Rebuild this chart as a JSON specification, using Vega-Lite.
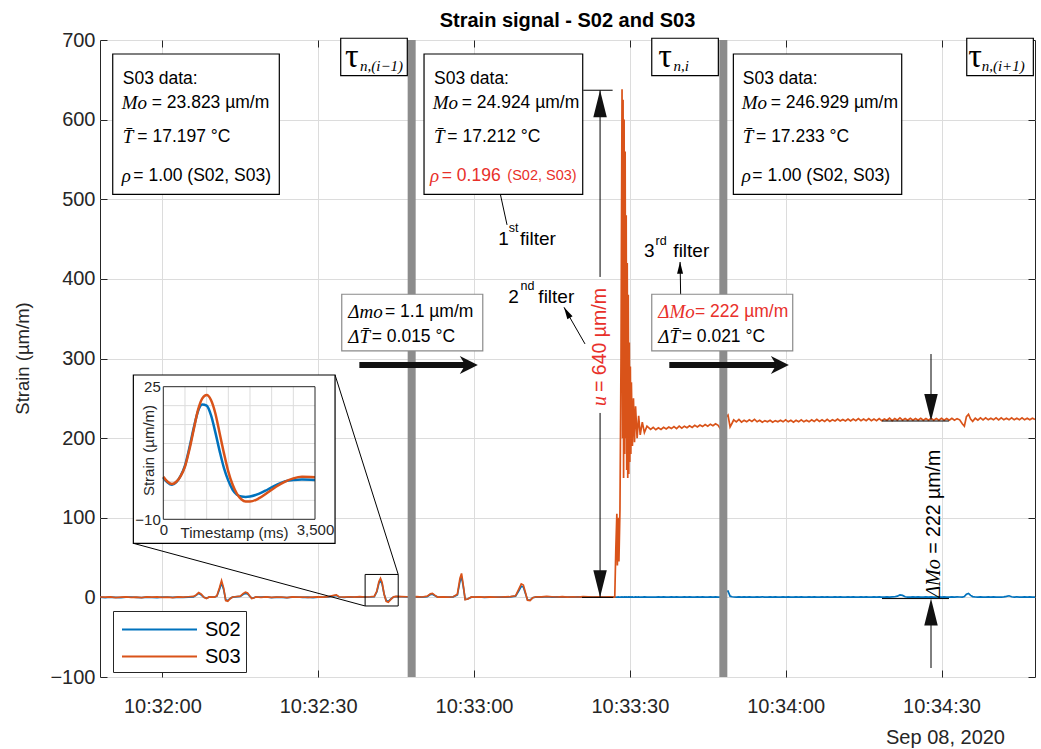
{
"$schema": "https://vega.github.io/schema/vega-lite/v6.json",
"width": 935, "height": 637,
"autosize": "none",
"padding": {"left": 100, "top": 40, "right": 6, "bottom": 72},
"background": "white",
"title": {"text": "Strain signal - S02 and S03", "fontSize": 20, "fontWeight": "bold", "color": "#000000", "offset": -1, "anchor": "middle"},
"config": {
  "font": "Liberation Sans",
  "view": {"stroke": "#262626", "strokeWidth": 1},
  "axis": {"domain": false, "ticks": false, "tickSize": 0, "grid": true, "gridColor": "#dcdcdc", "gridWidth": 1, "labelFontSize": 20, "labelColor": "#262626", "titleColor": "#262626", "labelFont": "Liberation Sans", "titleFont": "Liberation Sans"}
},
"layer": [
  {"data": {"values": [
{"t":-12,"S02":0.3,"S03":0.5},{"t":-11,"S02":-0.2,"S03":0.2},{"t":-10,"S02":0.4,"S03":0.6},{"t":-9,"S02":0.1,"S03":-0.2},{"t":-8,"S02":-0.3,"S03":0.3},{"t":-7,"S02":0.2,"S03":0.7},{"t":-6,"S02":0.5,"S03":0.1},{"t":-5,"S02":0,"S03":0.4},{"t":-4,"S02":-0.4,"S03":-0.3},{"t":-3,"S02":0.3,"S03":0.5},{"t":-2,"S02":0.1,"S03":0.2},{"t":-1,"S02":-0.2,"S03":0.6},{"t":0,"S02":0.2,"S03":0.1},{"t":1,"S02":0.5,"S03":0.4},{"t":2,"S02":-0.1,"S03":-0.2},{"t":3,"S02":0.3,"S03":0.5},{"t":4,"S02":0,"S03":0.2},{"t":5,"S02":0.4,"S03":0.8},{"t":6,"S02":0.6,"S03":1.2},{"t":6.5,"S02":2.5,"S03":3},{"t":7,"S02":5,"S03":6},{"t":7.5,"S02":3,"S03":4},{"t":8,"S02":0.2,"S03":0},{"t":8.5,"S02":-1,"S03":-1.5},{"t":9,"S02":0.3,"S03":0.5},{"t":10,"S02":0.2,"S03":0.3},{"t":10.5,"S02":1.5,"S03":2},{"t":11,"S02":10,"S03":12},{"t":11.4,"S02":18,"S03":21},{"t":11.8,"S02":10,"S03":12},{"t":12.2,"S02":-3,"S03":-4},{"t":12.6,"S02":-4,"S03":-5},{"t":13,"S02":-1.5,"S03":-2},{"t":13.5,"S02":0.3,"S03":0.5},{"t":14,"S02":0.6,"S03":0.8},{"t":15,"S02":1.2,"S03":1.5},{"t":15.6,"S02":4,"S03":5},{"t":16,"S02":5,"S03":6.5},{"t":16.4,"S02":4.5,"S03":5.5},{"t":16.8,"S02":1.5,"S03":2},{"t":17.2,"S02":-1,"S03":-1.5},{"t":17.6,"S02":-0.5,"S03":-0.8},{"t":18,"S02":0.4,"S03":0.5},{"t":19,"S02":0.2,"S03":0.1},{"t":20,"S02":0.5,"S03":0.6},{"t":21,"S02":-0.2,"S03":0},{"t":22,"S02":0.4,"S03":0.3},{"t":23,"S02":0.1,"S03":0.5},{"t":24,"S02":-0.3,"S03":-0.4},{"t":25,"S02":0.2,"S03":0.6},{"t":26,"S02":0.5,"S03":0.3},{"t":27,"S02":0,"S03":0.5},{"t":28,"S02":0.3,"S03":0.1},{"t":29,"S02":-0.2,"S03":0.4},{"t":30,"S02":0.4,"S03":0.7},{"t":31,"S02":0.2,"S03":0.2},{"t":32,"S02":0.6,"S03":0.9},{"t":33,"S02":1.8,"S03":2.5},{"t":33.5,"S02":2.5,"S03":3},{"t":34,"S02":0.5,"S03":0.8},{"t":35,"S02":0.1,"S03":0.2},{"t":36,"S02":0.5,"S03":0.8},{"t":37,"S02":0.2,"S03":0.3},{"t":38,"S02":0.6,"S03":1},{"t":39,"S02":0.3,"S03":0.5},{"t":40,"S02":0.5,"S03":0.8},{"t":40.8,"S02":1,"S03":1.2},{"t":41.3,"S02":7,"S03":8},{"t":41.7,"S02":18,"S03":20},{"t":42,"S02":21,"S03":24},{"t":42.3,"S02":17,"S03":19},{"t":42.7,"S02":4,"S03":4},{"t":43.1,"S02":-4,"S03":-5},{"t":43.5,"S02":-5,"S03":-6},{"t":44,"S02":-2,"S03":-2.5},{"t":44.5,"S02":0.5,"S03":0.6},{"t":45,"S02":1,"S03":1.2},{"t":46,"S02":0.8,"S03":1},{"t":47,"S02":0.5,"S03":0.8},{"t":48,"S02":0.4,"S03":0.6},{"t":49,"S02":0.6,"S03":0.9},{"t":50,"S02":0.3,"S03":0.5},{"t":51,"S02":1,"S03":1.5},{"t":51.6,"S02":3.5,"S03":4.5},{"t":52,"S02":4,"S03":5},{"t":52.5,"S02":2,"S03":2.5},{"t":53,"S02":0.3,"S03":0.4},{"t":54,"S02":0.5,"S03":0.6},{"t":55,"S02":0.2,"S03":0.3},{"t":56,"S02":0.6,"S03":0.8},{"t":56.8,"S02":3,"S03":4},{"t":57.3,"S02":20,"S03":24},{"t":57.6,"S02":26,"S03":30},{"t":57.9,"S02":15,"S03":17},{"t":58.3,"S02":-2.5,"S03":-3},{"t":58.8,"S02":-2,"S03":-2},{"t":59.5,"S02":0.3,"S03":0.5},{"t":60,"S02":0.2,"S03":0.4},{"t":61,"S02":0.5,"S03":0.7},{"t":62,"S02":0.1,"S03":0.3},{"t":63,"S02":0.4,"S03":0.6},{"t":64,"S02":0.2,"S03":0.2},{"t":65,"S02":0.5,"S03":0.5},{"t":66,"S02":0.3,"S03":0.7},{"t":67,"S02":0.6,"S03":0.9},{"t":68,"S02":1.5,"S03":2},{"t":68.6,"S02":8,"S03":10},{"t":69.1,"S02":14,"S03":17},{"t":69.5,"S02":13,"S03":15.5},{"t":69.9,"S02":5,"S03":6},{"t":70.3,"S02":-3,"S03":-3.5},{"t":70.8,"S02":-3.5,"S03":-4},{"t":71.3,"S02":-0.5,"S03":-0.5},{"t":72,"S02":0.5,"S03":0.8},{"t":73,"S02":0.3,"S03":0.6},{"t":74,"S02":0.8,"S03":1.2},{"t":75,"S02":0.4,"S03":0.8},{"t":76,"S02":0.6,"S03":0.5},{"t":77,"S02":0.2,"S03":0.9},{"t":78,"S02":0.5,"S03":0.4},{"t":79,"S02":0.3,"S03":0.8},{"t":80,"S02":0.6,"S03":0.5},{"t":81,"S02":0.2,"S03":0.9},{"t":82,"S02":0.5,"S03":0.6},{"t":83,"S02":0.3,"S03":0.4},{"t":84,"S02":0.6,"S03":0.8},{"t":85,"S02":0.2,"S03":0.5},{"t":86,"S02":0.4,"S03":0.6},{"t":86.8,"S02":0.3,"S03":0.4},{"t":87.1,"S02":0.5,"S03":0.5},
{"t":87.3,"S02":0.2,"S03":60},{"t":87.5,"S02":0.4,"S03":105},{"t":87.6,"S02":0.3,"S03":40},{"t":87.8,"S02":0.5,"S03":100},{"t":87.9,"S02":0.2,"S03":45},{"t":88.1,"S02":0.4,"S03":110},{"t":88.3,"S02":0.3,"S03":300},{"t":88.5,"S02":0.5,"S03":638},{"t":88.6,"S02":0.3,"S03":200},{"t":88.7,"S02":0.4,"S03":625},{"t":88.8,"S02":0.2,"S03":150},{"t":88.9,"S02":0.5,"S03":600},{"t":89.0,"S02":0.3,"S03":180},{"t":89.1,"S02":0.6,"S03":560},{"t":89.2,"S02":0.4,"S03":200},{"t":89.3,"S02":0.2,"S03":480},{"t":89.4,"S02":0.5,"S03":160},{"t":89.5,"S02":0.3,"S03":420},{"t":89.6,"S02":0.4,"S03":150},{"t":89.7,"S02":0.6,"S03":380},{"t":89.8,"S02":0.3,"S03":155},{"t":89.9,"S02":0.5,"S03":320},{"t":90.0,"S02":0.2,"S03":170},{"t":90.1,"S02":0.4,"S03":290},{"t":90.2,"S02":0.6,"S03":180},{"t":90.3,"S02":0.3,"S03":270},{"t":90.5,"S02":0.5,"S03":190},{"t":90.7,"S02":0.2,"S03":250},{"t":90.9,"S02":0.4,"S03":195},{"t":91.1,"S02":0.6,"S03":240},{"t":91.4,"S02":0.3,"S03":200},{"t":91.7,"S02":0.5,"S03":228},{"t":92.0,"S02":0.2,"S03":204},{"t":92.4,"S02":0.4,"S03":220},{"t":92.8,"S02":0.6,"S03":207},{"t":93.3,"S02":0.3,"S03":215},
{"t":94,"S02":0.5,"S03":211},{"t":94.5,"S02":0.2,"S03":213.5},{"t":95,"S02":0.4,"S03":210.5},{"t":95.5,"S02":0.6,"S03":213},{"t":96,"S02":0.3,"S03":211},{"t":96.5,"S02":0.5,"S03":213.5},{"t":97,"S02":0.2,"S03":211.5},{"t":97.5,"S02":0.4,"S03":214},{"t":98,"S02":0.6,"S03":212},{"t":98.5,"S02":0.3,"S03":214.5},{"t":99,"S02":0.5,"S03":212},{"t":99.5,"S02":0.2,"S03":215},{"t":100,"S02":0.4,"S03":212.5},{"t":100.5,"S02":0.6,"S03":215},{"t":101,"S02":0.3,"S03":213},{"t":101.5,"S02":0.5,"S03":215.5},{"t":102,"S02":0.2,"S03":213.5},{"t":102.5,"S02":0.4,"S03":216},{"t":103,"S02":0.6,"S03":214},{"t":103.5,"S02":0.3,"S03":216.5},{"t":104,"S02":0.5,"S03":214.5},{"t":104.5,"S02":0.2,"S03":217},{"t":105,"S02":0.4,"S03":215},{"t":105.5,"S02":0.6,"S03":217.5},{"t":106,"S02":0.3,"S03":215.5},{"t":106.5,"S02":0.5,"S03":218},{"t":107,"S02":0.2,"S03":216},{"t":107.5,"S02":0.4,"S03":211},{"t":108,"S02":0.6,"S03":216},{"t":108.5,"S02":7,"S03":226},{"t":108.9,"S02":8,"S03":229},{"t":109.3,"S02":1.5,"S03":214},{"t":109.7,"S02":0.8,"S03":219},
{"t":110,"S02":0.5,"S03":223},{"t":110.5,"S02":0.3,"S03":220.5},{"t":111,"S02":0.6,"S03":223.5},{"t":111.5,"S02":0.2,"S03":220},{"t":112,"S02":0.5,"S03":222.5},{"t":112.5,"S02":0.3,"S03":220.5},{"t":113,"S02":0.6,"S03":223},{"t":113.5,"S02":0.4,"S03":221},{"t":114,"S02":0.2,"S03":223.5},{"t":114.5,"S02":0.5,"S03":220.5},{"t":115,"S02":0.3,"S03":222.5},{"t":115.5,"S02":0.6,"S03":220},{"t":116,"S02":0.4,"S03":222},{"t":116.5,"S02":0.2,"S03":220.5},{"t":117,"S02":0.5,"S03":222.5},{"t":117.5,"S02":0.3,"S03":220},{"t":118,"S02":0.6,"S03":222},{"t":118.5,"S02":0.4,"S03":220.5},{"t":119,"S02":0.2,"S03":222.5},{"t":119.5,"S02":0.5,"S03":220.5},{"t":120,"S02":0.3,"S03":223},{"t":120.5,"S02":0.6,"S03":220.5},{"t":121,"S02":0.4,"S03":222.5},{"t":121.5,"S02":0.2,"S03":220},{"t":122,"S02":0.5,"S03":222.5},{"t":122.5,"S02":0.3,"S03":220.5},{"t":123,"S02":0.6,"S03":223},{"t":123.5,"S02":0.4,"S03":220.5},{"t":124,"S02":0.2,"S03":222.5},{"t":124.5,"S02":0.5,"S03":220.5},{"t":125,"S02":0.3,"S03":223},{"t":125.5,"S02":0.6,"S03":221},{"t":126,"S02":0.4,"S03":223.5},{"t":126.5,"S02":0.2,"S03":221},{"t":127,"S02":0.5,"S03":223},{"t":127.5,"S02":0.3,"S03":221},{"t":128,"S02":0.6,"S03":223.5},{"t":128.5,"S02":0.4,"S03":221},{"t":129,"S02":0.2,"S03":223},{"t":129.5,"S02":0.5,"S03":221.5},{"t":130,"S02":0.3,"S03":224},{"t":130.5,"S02":0.6,"S03":221.5},{"t":131,"S02":0.4,"S03":223.5},{"t":131.5,"S02":0.2,"S03":221.5},{"t":132,"S02":0.5,"S03":224},{"t":132.5,"S02":0.3,"S03":221.5},{"t":133,"S02":0.6,"S03":224},{"t":133.5,"S02":0.4,"S03":222},{"t":134,"S02":0.2,"S03":224.5},{"t":134.5,"S02":0.5,"S03":222},{"t":135,"S02":0.3,"S03":224},{"t":135.5,"S02":0.6,"S03":222},{"t":136,"S02":0.4,"S03":224.5},{"t":136.5,"S02":0.2,"S03":222},{"t":137,"S02":0.5,"S03":224},{"t":137.5,"S02":0.3,"S03":222},{"t":138,"S02":0.6,"S03":224.5},{"t":138.5,"S02":0.4,"S03":222},{"t":139,"S02":0.2,"S03":224},{"t":139.5,"S02":0.5,"S03":222.5},{"t":140,"S02":0.3,"S03":225},{"t":140.5,"S02":0.6,"S03":222},{"t":141,"S02":0.8,"S03":224.5},{"t":141.5,"S02":1.5,"S03":222.5},{"t":142,"S02":3,"S03":225.5},{"t":142.5,"S02":2.5,"S03":222.5},{"t":143,"S02":0.8,"S03":224.5},{"t":143.5,"S02":0.4,"S03":222.5},{"t":144,"S02":0.2,"S03":225},{"t":144.5,"S02":0.5,"S03":222.5},{"t":145,"S02":0.3,"S03":224.5},{"t":145.5,"S02":0.6,"S03":222.5},{"t":146,"S02":0.4,"S03":225},{"t":146.5,"S02":0.2,"S03":222.5},{"t":147,"S02":0.5,"S03":224.5},{"t":147.5,"S02":0.3,"S03":222.5},{"t":148,"S02":0.6,"S03":225},{"t":148.5,"S02":0.4,"S03":222.5},{"t":149,"S02":0.2,"S03":224.5},{"t":149.5,"S02":0.5,"S03":222.5},{"t":150,"S02":0.3,"S03":225},{"t":150.5,"S02":0.6,"S03":222.5},{"t":151,"S02":0.4,"S03":224.5},{"t":151.5,"S02":0.2,"S03":222.5},{"t":152,"S02":0.5,"S03":225},{"t":152.5,"S02":0.3,"S03":222.5},{"t":153,"S02":0.6,"S03":224.5},{"t":153.5,"S02":0.5,"S03":223},{"t":154,"S02":0.4,"S03":218},{"t":154.4,"S02":1,"S03":215},{"t":154.8,"S02":4,"S03":227},{"t":155.2,"S02":5,"S03":230},{"t":155.6,"S02":2.5,"S03":224},{"t":156,"S02":1,"S03":221},{"t":156.5,"S02":0.5,"S03":225},{"t":157,"S02":0.3,"S03":222.5},{"t":157.5,"S02":0.6,"S03":225.5},{"t":158,"S02":0.4,"S03":223},{"t":158.5,"S02":0.2,"S03":225.5},{"t":159,"S02":0.5,"S03":223},{"t":159.5,"S02":0.3,"S03":225},{"t":160,"S02":0.6,"S03":223},{"t":160.5,"S02":0.4,"S03":225.5},{"t":161,"S02":0.5,"S03":223},{"t":161.5,"S02":0.3,"S03":225.5},{"t":162,"S02":0.6,"S03":223},{"t":162.5,"S02":1.2,"S03":225},{"t":163,"S02":2,"S03":223},{"t":163.5,"S02":0.8,"S03":225.5},{"t":164,"S02":0.3,"S03":223},{"t":164.5,"S02":0.6,"S03":225},{"t":165,"S02":0.4,"S03":223},{"t":165.5,"S02":0.2,"S03":225.5},{"t":166,"S02":0.5,"S03":223},{"t":166.5,"S02":0.3,"S03":225},{"t":167,"S02":0.6,"S03":223},{"t":167.5,"S02":0.4,"S03":225},{"t":168,"S02":0.2,"S03":223.5}
  ]},
  "transform": [{"fold": ["S02", "S03"], "as": ["series", "v"]}],
  "mark": {"type": "line", "strokeWidth": 1.7, "clip": true},
  "encoding": {
    "x": {"field": "t", "type": "quantitative", "scale": {"domain": [-12, 168], "nice": false, "zero": false},
      "axis": {"orient": "bottom", "values": [0, 30, 60, 90, 120, 150], "labelExpr": "timeFormat(datetime(2020, 8, 8, 10, 32, datum.value), '%H:%M:%S')", "labelPadding": 19, "title": "Sep 08, 2020", "titleX": 845, "titleY": 60, "titleBaseline": "middle", "titleAlign": "center", "titleFontSize": 20, "titleFontWeight": "normal"}},
    "y": {"field": "v", "type": "quantitative", "scale": {"domain": [-100, 700], "nice": false, "zero": false},
      "axis": {"orient": "left", "values": [-100, 0, 100, 200, 300, 400, 500, 600, 700], "labelPadding": 5, "title": "Strain (µm/m)", "titleX": -78, "titleY": 318, "titleBaseline": "middle", "titleAlign": "center", "titleFontSize": 18.5, "titleFontWeight": "normal"}},
    "color": {"field": "series", "type": "nominal", "scale": {"domain": ["S02", "S03"], "range": ["#0072BD", "#D95319"]},
      "legend": {"orient": "none", "legendX": 13, "legendY": 571, "title": null, "symbolType": "M-3,0H3", "symbolSize": 625, "symbolStrokeWidth": 2, "labelFontSize": 20, "labelColor": "#000000", "strokeColor": "#262626", "fillColor": "white", "padding": 5, "rowPadding": 3, "symbolOffset": 28, "labelOffset": 32}}
  }},
  {"data": {"values": [{"t": 48}, {"t": 108}]},
   "mark": {"type": "rule", "color": "#8c8c8c", "strokeWidth": 8},
   "encoding": {"x": {"field": "t", "type": "quantitative", "scale": {"domain": [-12, 168], "nice": false, "zero": false}, "axis": null}}},
  {"data": {"values": [
     {"t": 84.27, "v": 636.9, "t2": 84.27, "v2": 402.4},
     {"t": 84.27, "v": 231.6, "t2": 84.27, "v2": 0},
     {"t": 81.03, "v": 636.9, "t2": 86.69, "v2": 636.9},
     {"t": 80.8, "v": 0, "t2": 86.8, "v2": 0},
     {"t": 147.98, "v": 305.6, "t2": 147.98, "v2": 238.5},
     {"t": 138.54, "v": 221.5, "t2": 151.44, "v2": 221.5},
     {"t": 138.54, "v": -1.5, "t2": 151.44, "v2": -1.5},
     {"t": 147.98, "v": -18.5, "t2": 147.98, "v2": -88.7},
     {"t": 66.36, "v": 467.8, "t2": 64.43, "v2": 525.6},
     {"t": 81.37, "v": 318.3, "t2": 77.33, "v2": 364.3},
     {"t": 99.8, "v": 373.1, "t2": 99.67, "v2": 421.2},
     {"t": 33.25, "v": 279.3, "t2": 45.41, "v2": 28.8},
     {"t": -5.58, "v": 67.9, "t2": 39.04, "v2": -10.8}
   ]},
   "mark": {"type": "rule", "color": "#000000", "strokeWidth": 1},
   "encoding": {
     "x": {"field": "t", "type": "quantitative", "scale": {"domain": [-12, 168], "nice": false, "zero": false},
       "axis": {"orient": "top", "values": [0, 30, 60, 90, 120, 150], "labels": false, "grid": false, "ticks": true, "tickSize": 7, "tickColor": "#262626", "offset": -7, "title": null}},
     "y": {"field": "v", "type": "quantitative", "scale": {"domain": [-100, 700], "nice": false, "zero": false},
       "axis": {"orient": "right", "values": [-100, 0, 100, 200, 300, 400, 500, 600, 700], "labels": false, "grid": false, "ticks": true, "tickSize": 7, "tickColor": "#262626", "offset": -7, "title": null}},
     "x2": {"field": "t2"}, "y2": {"field": "v2"}}},
  {"data": {"values": [{"t": 37.93, "v": 291.9, "t2": 58.5, "v2": 291.9}, {"t": 97.6, "v": 291.9, "t2": 118.2, "v2": 291.9}]},
   "mark": {"type": "rule", "color": "#111111", "strokeWidth": 6},
   "encoding": {
     "x": {"field": "t", "type": "quantitative", "scale": {"domain": [-12, 168], "nice": false, "zero": false},
       "axis": {"orient": "bottom", "values": [0, 30, 60, 90, 120, 150], "labels": false, "grid": false, "ticks": true, "tickSize": 7, "tickColor": "#262626", "offset": -7, "title": null}},
     "y": {"field": "v", "type": "quantitative", "scale": {"domain": [-100, 700], "nice": false, "zero": false},
       "axis": {"orient": "left", "values": [-100, 0, 100, 200, 300, 400, 500, 600, 700], "labels": false, "grid": false, "ticks": true, "tickSize": 7, "tickColor": "#262626", "offset": -7, "title": null}},
     "x2": {"field": "t2"}, "y2": {"field": "v2"}}},
  {"data": {"values": [{"t": 59.0, "v": 291.9}, {"t": 118.88, "v": 291.9}]},
   "mark": {"type": "point", "shape": "M1,0L-1,-1L-0.4,0L-1,1Z", "size": 324, "filled": true, "color": "#111111", "opacity": 1, "strokeWidth": 0},
   "encoding": {"x": {"field": "t", "type": "quantitative", "scale": {"domain": [-12, 168], "nice": false, "zero": false}, "axis": null}, "y": {"field": "v", "type": "quantitative", "scale": {"domain": [-100, 700], "nice": false, "zero": false}, "axis": null}}},
  {"data": {"values": [{"t": 84.27, "v": 620.0}, {"t": 147.98, "v": -18.5}]},
   "mark": {"type": "point", "shape": "M0,-1L-0.5,1L0.5,1Z", "size": 729, "filled": true, "color": "#111111", "opacity": 1, "strokeWidth": 0},
   "encoding": {"x": {"field": "t", "type": "quantitative", "scale": {"domain": [-12, 168], "nice": false, "zero": false}, "axis": null}, "y": {"field": "v", "type": "quantitative", "scale": {"domain": [-100, 700], "nice": false, "zero": false}, "axis": null}}},
  {"data": {"values": [{"t": 84.27, "v": 17.0}, {"t": 147.98, "v": 238.5}]},
   "mark": {"type": "point", "shape": "M0,1L-0.5,-1L0.5,-1Z", "size": 729, "filled": true, "color": "#111111", "opacity": 1, "strokeWidth": 0},
   "encoding": {"x": {"field": "t", "type": "quantitative", "scale": {"domain": [-12, 168], "nice": false, "zero": false}, "axis": null}, "y": {"field": "v", "type": "quantitative", "scale": {"domain": [-100, 700], "nice": false, "zero": false}, "axis": null}}},
  {"data": {"values": [{"t": 63.34, "v": 518.1}]},
   "mark": {"type": "point", "shape": "M0,-1L-0.5,1L0.5,1Z", "size": 144, "angle": 347.7, "filled": true, "color": "#000000", "opacity": 1, "strokeWidth": 0},
   "encoding": {"x": {"field": "t", "type": "quantitative", "scale": {"domain": [-12, 168], "nice": false, "zero": false}, "axis": null}, "y": {"field": "v", "type": "quantitative", "scale": {"domain": [-100, 700], "nice": false, "zero": false}, "axis": null}}},
  {"data": {"values": [{"t": 77.9, "v": 357.8}]},
   "mark": {"type": "point", "shape": "M0,-1L-0.5,1L0.5,1Z", "size": 144, "angle": 330.2, "filled": true, "color": "#000000", "opacity": 1, "strokeWidth": 0},
   "encoding": {"x": {"field": "t", "type": "quantitative", "scale": {"domain": [-12, 168], "nice": false, "zero": false}, "axis": null}, "y": {"field": "v", "type": "quantitative", "scale": {"domain": [-100, 700], "nice": false, "zero": false}, "axis": null}}},
  {"data": {"values": [{"t": 99.67, "v": 414.1}]},
   "mark": {"type": "point", "shape": "M0,-1L-0.5,1L0.5,1Z", "size": 144, "filled": true, "color": "#000000", "opacity": 1, "strokeWidth": 0},
   "encoding": {"x": {"field": "t", "type": "quantitative", "scale": {"domain": [-12, 168], "nice": false, "zero": false}, "axis": null}, "y": {"field": "v", "type": "quantitative", "scale": {"domain": [-100, 700], "nice": false, "zero": false}, "axis": null}}},
  {"data": {"values": [
     {"t": -9.55, "t2": 22.52, "v": 682.4, "v2": 506.2},
     {"t": 50.38, "t2": 80.93, "v": 682.4, "v2": 506.2},
     {"t": 109.93, "t2": 142.34, "v": 682.4, "v2": 506.2},
     {"t": 34.34, "t2": 47.16, "v": 702.2, "v2": 655.2},
     {"t": 94.22, "t2": 107.04, "v": 702.2, "v2": 655.2},
     {"t": 154.86, "t2": 167.68, "v": 702.2, "v2": 655.2},
     {"t": -5.58, "t2": 33.25, "v": 279.3, "v2": 67.9}
   ]},
   "mark": {"type": "rect", "fill": "white", "stroke": "#000000", "strokeWidth": 1.2},
   "encoding": {"x": {"field": "t", "type": "quantitative", "scale": {"domain": [-12, 168], "nice": false, "zero": false}, "axis": null}, "x2": {"field": "t2"}, "y": {"field": "v", "type": "quantitative", "scale": {"domain": [-100, 700], "nice": false, "zero": false}, "axis": null}, "y2": {"field": "v2"}}},
  {"data": {"values": [
     {"t": 34.54, "t2": 61.69, "v": 380.7, "v2": 309.5},
     {"t": 94.22, "t2": 121.36, "v": 380.7, "v2": 309.5}
   ]},
   "mark": {"type": "rect", "fill": "white", "stroke": "#8a8a8a", "strokeWidth": 1.2},
   "encoding": {"x": {"field": "t", "type": "quantitative", "scale": {"domain": [-12, 168], "nice": false, "zero": false}, "axis": null}, "x2": {"field": "t2"}, "y": {"field": "v", "type": "quantitative", "scale": {"domain": [-100, 700], "nice": false, "zero": false}, "axis": null}, "y2": {"field": "v2"}}},
  {"data": {"values": [{"t": 39.04, "t2": 45.41, "v": 28.8, "v2": -10.8}]},
   "mark": {"type": "rect", "filled": false, "color": "#000000", "strokeWidth": 1},
   "encoding": {"x": {"field": "t", "type": "quantitative", "scale": {"domain": [-12, 168], "nice": false, "zero": false}, "axis": null}, "x2": {"field": "t2"}, "y": {"field": "v", "type": "quantitative", "scale": {"domain": [-100, 700], "nice": false, "zero": false}, "axis": null}, "y2": {"field": "v2"}}},
  {"data": {"values": [
     {"t": -7.62, "v": 650.7, "s": "S03 data:"},
     {"t": -2.04, "v": 621.3, "s": "= 23.823 µm/m"},
     {"t": -4.81, "v": 578.2, "s": "= 17.197 °C"},
     {"t": -5.58, "v": 529.6, "s": "= 1.00 (S02, S03)"},
     {"t": 52.31, "v": 650.7, "s": "S03 data:"},
     {"t": 57.64, "v": 621.3, "s": "= 24.924 µm/m"},
     {"t": 54.87, "v": 578.2, "s": "= 17.212 °C"},
     {"t": 111.74, "v": 650.7, "s": "S03 data:"},
     {"t": 117.13, "v": 621.3, "s": "= 246.929 µm/m"},
     {"t": 114.3, "v": 578.2, "s": "= 17.233 °C"},
     {"t": 113.58, "v": 529.6, "s": "= 1.00 (S02, S03)"},
     {"t": 42.87, "v": 358.8, "s": "= 1.1 µm/m"},
     {"t": 40.31, "v": 327.4, "s": "= 0.015 °C"},
     {"t": 99.99, "v": 327.4, "s": "= 0.021 °C"}
   ]},
   "mark": {"type": "text", "align": "left", "baseline": "middle", "font": "Liberation Sans", "fontSize": 17.5, "color": "#000000"},
   "encoding": {"x": {"field": "t", "type": "quantitative", "scale": {"domain": [-12, 168], "nice": false, "zero": false}, "axis": null}, "y": {"field": "v", "type": "quantitative", "scale": {"domain": [-100, 700], "nice": false, "zero": false}, "axis": null}, "text": {"field": "s"}}},
  {"data": {"values": [
     {"t": 53.79, "v": 529.6, "s": "= 0.196"},
     {"t": 102.55, "v": 358.8, "s": "= 222 µm/m"}
   ]},
   "mark": {"type": "text", "align": "left", "baseline": "middle", "font": "Liberation Sans", "fontSize": 17.5, "color": "#e8302a"},
   "encoding": {"x": {"field": "t", "type": "quantitative", "scale": {"domain": [-12, 168], "nice": false, "zero": false}, "axis": null}, "y": {"field": "v", "type": "quantitative", "scale": {"domain": [-100, 700], "nice": false, "zero": false}, "axis": null}, "text": {"field": "s"}}},
  {"data": {"values": [{"t": 66.42, "v": 529.6, "s": "(S02, S03)"}]},
   "mark": {"type": "text", "align": "left", "baseline": "middle", "font": "Liberation Sans", "fontSize": 14.5, "color": "#e8302a"},
   "encoding": {"x": {"field": "t", "type": "quantitative", "scale": {"domain": [-12, 168], "nice": false, "zero": false}, "axis": null}, "y": {"field": "v", "type": "quantitative", "scale": {"domain": [-100, 700], "nice": false, "zero": false}, "axis": null}, "text": {"field": "s"}}},
  {"data": {"values": [
     {"t": -7.82, "v": 621.3, "s": "Mo"},
     {"t": -7.62, "v": 578.2, "s": "T\u0304"},
     {"t": -7.82, "v": 529.6, "s": "ρ"},
     {"t": 52.06, "v": 621.3, "s": "Mo"},
     {"t": 52.31, "v": 578.2, "s": "T\u0304"},
     {"t": 111.54, "v": 621.3, "s": "Mo"},
     {"t": 111.74, "v": 578.2, "s": "T\u0304"},
     {"t": 111.54, "v": 529.6, "s": "ρ"},
     {"t": 35.81, "v": 358.8, "s": "Δmo"},
     {"t": 35.81, "v": 327.4, "s": "ΔT\u0304"},
     {"t": 95.49, "v": 327.4, "s": "ΔT\u0304"}
   ]},
   "mark": {"type": "text", "align": "left", "baseline": "middle", "font": "Liberation Serif", "fontStyle": "italic", "fontSize": 19, "color": "#000000"},
   "encoding": {"x": {"field": "t", "type": "quantitative", "scale": {"domain": [-12, 168], "nice": false, "zero": false}, "axis": null}, "y": {"field": "v", "type": "quantitative", "scale": {"domain": [-100, 700], "nice": false, "zero": false}, "axis": null}, "text": {"field": "s"}}},
  {"data": {"values": [
     {"t": 51.54, "v": 529.6, "s": "ρ"},
     {"t": 95.49, "v": 358.8, "s": "ΔMo"}
   ]},
   "mark": {"type": "text", "align": "left", "baseline": "middle", "font": "Liberation Serif", "fontStyle": "italic", "fontSize": 19, "color": "#e8302a"},
   "encoding": {"x": {"field": "t", "type": "quantitative", "scale": {"domain": [-12, 168], "nice": false, "zero": false}, "axis": null}, "y": {"field": "v", "type": "quantitative", "scale": {"domain": [-100, 700], "nice": false, "zero": false}, "axis": null}, "text": {"field": "s"}}},
  {"data": {"values": [
     {"t": 64.68, "v": 449.7, "s": "1"}, {"t": 68.86, "v": 449.7, "s": "filter"},
     {"t": 66.61, "v": 377.6, "s": "2"}, {"t": 72.39, "v": 377.6, "s": "filter"},
     {"t": 92.73, "v": 435.0, "s": "3"}, {"t": 98.38, "v": 435.0, "s": "filter"}
   ]},
   "mark": {"type": "text", "align": "left", "baseline": "middle", "font": "Liberation Sans", "fontSize": 19, "color": "#000000"},
   "encoding": {"x": {"field": "t", "type": "quantitative", "scale": {"domain": [-12, 168], "nice": false, "zero": false}, "axis": null}, "y": {"field": "v", "type": "quantitative", "scale": {"domain": [-100, 700], "nice": false, "zero": false}, "axis": null}, "text": {"field": "s"}}},
  {"data": {"values": [
     {"t": 66.7, "v": 463.5, "s": "st"}, {"t": 68.95, "v": 391.1, "s": "nd"}, {"t": 94.95, "v": 448.0, "s": "rd"}
   ]},
   "mark": {"type": "text", "align": "left", "baseline": "middle", "font": "Liberation Sans", "fontSize": 12.5, "color": "#000000"},
   "encoding": {"x": {"field": "t", "type": "quantitative", "scale": {"domain": [-12, 168], "nice": false, "zero": false}, "axis": null}, "y": {"field": "v", "type": "quantitative", "scale": {"domain": [-100, 700], "nice": false, "zero": false}, "axis": null}, "text": {"field": "s"}}},
  {"data": {"values": [
     {"t": 35.17, "v": 666.2, "s": "τ"}, {"t": 95.49, "v": 666.2, "s": "τ"}, {"t": 155.17, "v": 666.2, "s": "τ"}
   ]},
   "mark": {"type": "text", "align": "left", "baseline": "alphabetic", "font": "Liberation Serif", "fontSize": 34, "color": "#000000"},
   "encoding": {"x": {"field": "t", "type": "quantitative", "scale": {"domain": [-12, 168], "nice": false, "zero": false}, "axis": null}, "y": {"field": "v", "type": "quantitative", "scale": {"domain": [-100, 700], "nice": false, "zero": false}, "axis": null}, "text": {"field": "s"}}},
  {"data": {"values": [
     {"t": 38.06, "v": 660.5, "s": "n,(i−1)"}, {"t": 98.4, "v": 660.5, "s": "n,i"}, {"t": 157.74, "v": 660.5, "s": "n,(i+1)"}
   ]},
   "mark": {"type": "text", "align": "left", "baseline": "alphabetic", "font": "Liberation Serif", "fontStyle": "italic", "fontSize": 15, "color": "#000000"},
   "encoding": {"x": {"field": "t", "type": "quantitative", "scale": {"domain": [-12, 168], "nice": false, "zero": false}, "axis": null}, "y": {"field": "v", "type": "quantitative", "scale": {"domain": [-100, 700], "nice": false, "zero": false}, "axis": null}, "text": {"field": "s"}}},
  {"data": {"values": [{"t": 84.27, "v": 257.9, "s": "= 640 µm/m"}]},
   "mark": {"type": "text", "align": "left", "baseline": "middle", "angle": 270, "font": "Liberation Sans", "fontSize": 19.5, "color": "#e8302a"},
   "encoding": {"x": {"field": "t", "type": "quantitative", "scale": {"domain": [-12, 168], "nice": false, "zero": false}, "axis": null}, "y": {"field": "v", "type": "quantitative", "scale": {"domain": [-100, 700], "nice": false, "zero": false}, "axis": null}, "text": {"field": "s"}}},
  {"data": {"values": [{"t": 84.27, "v": 240.5, "s": "u"}]},
   "mark": {"type": "text", "align": "left", "baseline": "middle", "angle": 270, "font": "Liberation Serif", "fontStyle": "italic", "fontSize": 20, "color": "#e8302a"},
   "encoding": {"x": {"field": "t", "type": "quantitative", "scale": {"domain": [-12, 168], "nice": false, "zero": false}, "axis": null}, "y": {"field": "v", "type": "quantitative", "scale": {"domain": [-100, 700], "nice": false, "zero": false}, "axis": null}, "text": {"field": "s"}}},
  {"data": {"values": [{"t": 148.56, "v": 54.8, "s": "= 222 µm/m"}]},
   "mark": {"type": "text", "align": "left", "baseline": "middle", "angle": 270, "font": "Liberation Sans", "fontSize": 19.5, "color": "#000000"},
   "encoding": {"x": {"field": "t", "type": "quantitative", "scale": {"domain": [-12, 168], "nice": false, "zero": false}, "axis": null}, "y": {"field": "v", "type": "quantitative", "scale": {"domain": [-100, 700], "nice": false, "zero": false}, "axis": null}, "text": {"field": "s"}}},
  {"data": {"values": [{"t": 148.56, "v": -0.3, "s": "ΔMo"}]},
   "mark": {"type": "text", "align": "left", "baseline": "middle", "angle": 270, "font": "Liberation Serif", "fontStyle": "italic", "fontSize": 20, "color": "#000000"},
   "encoding": {"x": {"field": "t", "type": "quantitative", "scale": {"domain": [-12, 168], "nice": false, "zero": false}, "axis": null}, "y": {"field": "v", "type": "quantitative", "scale": {"domain": [-100, 700], "nice": false, "zero": false}, "axis": null}, "text": {"field": "s"}}},
  {"data": {"values": [{"ms": 500}, {"ms": 1000}, {"ms": 1500}, {"ms": 2000}, {"ms": 2500}, {"ms": 3000}]},
   "mark": {"type": "rule", "color": "#dcdcdc", "strokeWidth": 1},
   "encoding": {
     "x": {"field": "ms", "type": "quantitative", "scale": {"domain": [0, 3500], "range": [63.3, 215], "nice": false, "zero": false},
       "axis": {"orient": "bottom", "offset": -157.7, "values": [0, 3500], "labelExpr": "datum.value == 0 ? '0' : '3,500'", "grid": false, "labelFontSize": 15, "labelPadding": 3, "labelFlush": false, "labelOverlap": false, "title": "Timestamp (ms)", "titleFontSize": 15, "titleFontWeight": "normal", "titleX": 134, "titleY": 13, "titleBaseline": "middle", "titleAlign": "center", "zindex": 1}},
     "y": {"datum": -10, "type": "quantitative", "scale": {"domain": [-10, 25], "range": [479.3, 346.7], "nice": false, "zero": false}, "axis": null},
     "y2": {"datum": 25}}},
  {"data": {"values": [{"val": -5}, {"val": 0}, {"val": 5}, {"val": 10}, {"val": 15}, {"val": 20}]},
   "mark": {"type": "rule", "color": "#dcdcdc", "strokeWidth": 1},
   "encoding": {
     "y": {"field": "val", "type": "quantitative", "scale": {"domain": [-10, 25], "range": [479.3, 346.7], "nice": false, "zero": false},
       "axis": {"orient": "left", "offset": -63.3, "values": [-10, 25], "grid": false, "labelFontSize": 15, "labelPadding": 3, "labelOverlap": false, "title": "Strain (µm/m)", "titleFontSize": 15, "titleFontWeight": "normal", "titleX": -15, "titleY": 410, "titleBaseline": "middle", "titleAlign": "center", "zindex": 1}},
     "x": {"datum": 0, "type": "quantitative", "scale": {"domain": [0, 3500], "range": [63.3, 215], "nice": false, "zero": false}, "axis": null},
     "x2": {"datum": 3500}}},
  {"data": {"values": [
{"ms":0,"S02":1.0,"S03":1.25},{"ms":100,"S02":-0.3,"S03":-0.1},{"ms":200,"S02":-0.9,"S03":-0.7},{"ms":300,"S02":-0.2,"S03":-0.1},{"ms":400,"S02":1.5,"S03":1.4},{"ms":500,"S02":4.2,"S03":3.9},{"ms":600,"S02":8.8,"S03":8.3},{"ms":700,"S02":14,"S03":13.6},{"ms":800,"S02":18.5,"S03":18.8},{"ms":900,"S02":20.3,"S03":21.9},{"ms":1000,"S02":20.0,"S03":22.8},{"ms":1100,"S02":17.5,"S03":21.5},{"ms":1200,"S02":13,"S03":18},{"ms":1300,"S02":8,"S03":12.7},{"ms":1400,"S02":3.5,"S03":7.4},{"ms":1500,"S02":0.2,"S03":2.6},{"ms":1600,"S02":-2.2,"S03":-0.9},{"ms":1700,"S02":-3.5,"S03":-3.3},{"ms":1800,"S02":-4,"S03":-4.7},{"ms":1900,"S02":-4.1,"S03":-5.3},{"ms":2000,"S02":-4,"S03":-5.3},{"ms":2200,"S02":-3.3,"S03":-4.5},{"ms":2400,"S02":-2.2,"S03":-3},{"ms":2600,"S02":-1,"S03":-1.4},{"ms":2800,"S02":0,"S03":-0.1},{"ms":3000,"S02":0.4,"S03":0.8},{"ms":3200,"S02":0.5,"S03":1.2},{"ms":3500,"S02":0.4,"S03":1.1}
   ]},
   "transform": [{"fold": ["S02", "S03"], "as": ["series", "val"]}],
   "mark": {"type": "line", "strokeWidth": 2.5, "interpolate": "monotone"},
   "encoding": {
     "x": {"field": "ms", "type": "quantitative", "scale": {"domain": [0, 3500], "range": [63.3, 215], "nice": false, "zero": false}, "axis": null},
     "y": {"field": "val", "type": "quantitative", "scale": {"domain": [-10, 25], "range": [479.3, 346.7], "nice": false, "zero": false}, "axis": null},
     "color": {"field": "series", "type": "nominal"}}},
  {"data": {"values": [{}]},
   "mark": {"type": "rect", "filled": false, "color": "#262626", "strokeWidth": 1},
   "encoding": {
     "x": {"datum": 0, "type": "quantitative", "scale": {"domain": [0, 3500], "range": [63.3, 215], "nice": false, "zero": false}, "axis": null}, "x2": {"datum": 3500},
     "y": {"datum": -10, "type": "quantitative", "scale": {"domain": [-10, 25], "range": [479.3, 346.7], "nice": false, "zero": false}, "axis": null}, "y2": {"datum": 25}}}
],
"resolve": {"scale": {"x": "independent", "y": "independent"}, "axis": {"x": "independent", "y": "independent"}}
}
